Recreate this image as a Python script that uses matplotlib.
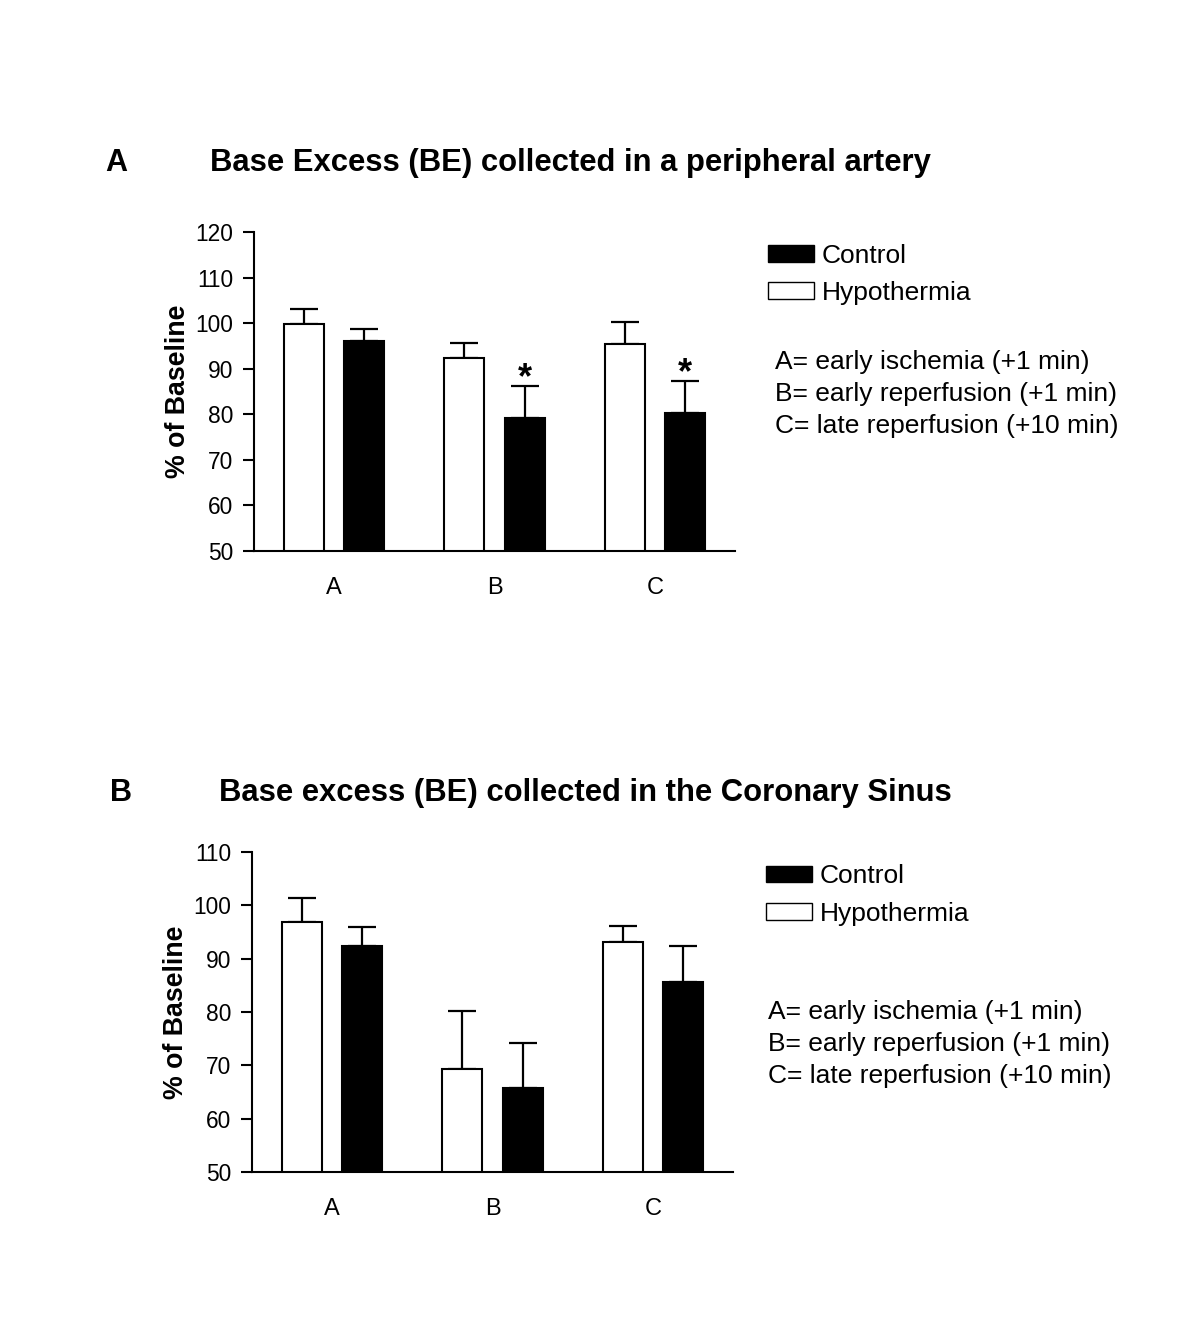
import numpy as np
import matplotlib
matplotlib.use("Agg")
import matplotlib.pyplot as plt
from matplotlib.patches import Patch

plt.rcParams['font.family'] = ['Liberation Sans', 'DejaVu Sans']

groups = ['A', 'B', 'C']

# panel A: peripheral artery
art_hypo = [99.9, 92.4, 95.5]
art_hypo_err = [3.3, 3.2, 4.7]
art_ctrl = [96.1, 79.2, 80.3]
art_ctrl_err = [2.6, 7.0, 7.0]
art_star = [False, True, True]

# panel B: coronary sinus
cs_hypo = [96.9, 69.4, 93.2]
cs_hypo_err = [4.5, 10.7, 2.9]
cs_ctrl = [92.4, 65.8, 85.7]
cs_ctrl_err = [3.5, 8.3, 6.6]
cs_star = [False, False, False]

notes = ['A= early ischemia (+1 min)',
         'B= early reperfusion (+1 min)',
         'C= late reperfusion (+10 min)']


def draw_panel(ax, hypo, hypo_err, ctrl, ctrl_err, stars, ymax):
    x = np.arange(len(groups))
    w = 0.25
    off = 0.1875
    ax.bar(x - off, hypo, w, color='white', edgecolor='black', linewidth=1.5, zorder=2)
    ax.bar(x + off, ctrl, w, color='black', edgecolor='black', linewidth=1.5, zorder=2)
    ax.errorbar(x - off, hypo, yerr=[np.zeros(3), hypo_err], fmt='none', ecolor='black',
                elinewidth=1.6, capsize=10, capthick=1.6, zorder=1)
    ax.errorbar(x + off, ctrl, yerr=[np.zeros(3), ctrl_err], fmt='none', ecolor='black',
                elinewidth=1.6, capsize=10, capthick=1.6, zorder=1)
    for i in range(len(groups)):
        if stars[i]:
            ax.text(x[i] + off, ctrl[i] + ctrl_err[i] - 2.2, '*', ha='center', va='bottom',
                    fontsize=26, fontweight='bold')
    ax.set_xlim(-0.5, 2.5)
    ax.set_ylim(50, ymax)
    ax.set_yticks(np.arange(50, ymax + 1, 10))
    ax.set_xticks(x)
    ax.set_xticklabels(groups)
    ax.spines['top'].set_visible(False)
    ax.spines['right'].set_visible(False)
    ax.spines['left'].set_linewidth(1.5)
    ax.spines['bottom'].set_linewidth(1.5)
    ax.tick_params(axis='y', direction='out', length=8, width=1.5, labelsize=16.4, pad=7)
    ax.tick_params(axis='x', length=0, labelsize=17, pad=19)
    ax.set_ylabel('% of Baseline', fontsize=19.3, fontweight='bold', labelpad=3)
    handles = [Patch(facecolor='black', edgecolor='black', label='Control'),
               Patch(facecolor='white', edgecolor='black', label='Hypothermia')]
    return handles


fig = plt.figure(figsize=(12, 13.23), dpi=100)

ax1 = fig.add_axes([0.2117, 0.5835, 0.4008, 0.2411])
h = draw_panel(ax1, art_hypo, art_hypo_err, art_ctrl, art_ctrl_err, art_star, 120)
fig.legend(handles=h, loc='upper left', bbox_to_anchor=(0.64, 0.8156), frameon=False,
           fontsize=19, handlelength=1.74, handleheight=0.6, handletextpad=0.3,
           labelspacing=0.5, borderaxespad=0, borderpad=0)
for i, t in enumerate(notes):
    fig.text(0.646, 0.7265 - i * 0.0242, t, fontsize=19, va='center')
fig.text(0.0875, 0.8768, 'A', fontsize=22, fontweight='bold', va='center')
fig.text(0.175, 0.8768, 'Base Excess (BE) collected in a peripheral artery', fontsize=22.3,
         fontweight='bold', va='center')

ax2 = fig.add_axes([0.21, 0.1141, 0.4008, 0.2419])
h = draw_panel(ax2, cs_hypo, cs_hypo_err, cs_ctrl, cs_ctrl_err, cs_star, 110)
fig.legend(handles=h, loc='upper left', bbox_to_anchor=(0.6383, 0.3467), frameon=False,
           fontsize=19, handlelength=1.74, handleheight=0.6, handletextpad=0.3,
           labelspacing=0.5, borderaxespad=0, borderpad=0)
for i, t in enumerate(notes):
    fig.text(0.64, 0.2351 - i * 0.0242, t, fontsize=19, va='center')
fig.text(0.0917, 0.4008, 'B', fontsize=22, fontweight='bold', va='center')
fig.text(0.1825, 0.4008, 'Base excess (BE) collected in the Coronary Sinus', fontsize=22.3,
         fontweight='bold', va='center')

fig.savefig('out.png', dpi=100, facecolor='white')
